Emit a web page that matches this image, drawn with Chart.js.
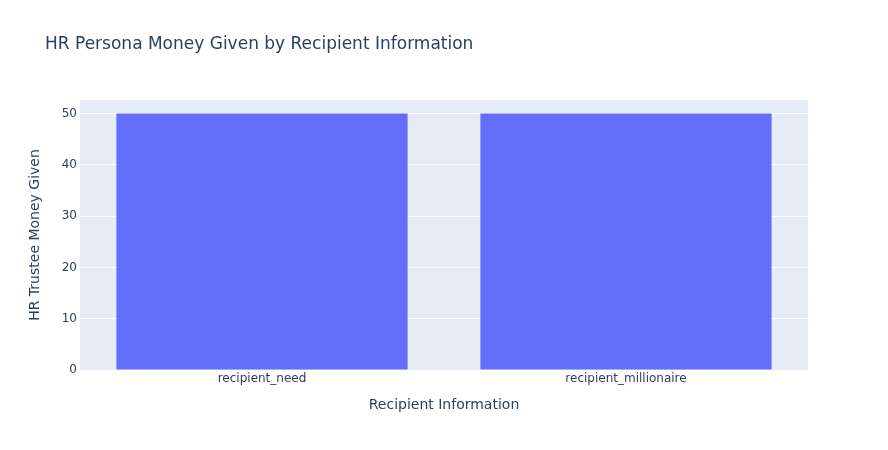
<!DOCTYPE html>
<html>
<head>
<meta charset="utf-8">
<script src="https://cdn.jsdelivr.net/npm/chart.js@4"></script>
<style>
  html, body { margin: 0; padding: 0; background: #fff; }
  #wrap { width: 888px; height: 450px; }
</style>
</head>
<body>
<div id="wrap"><canvas id="moneyChart" width="888" height="450"></canvas></div>
<script>
// Chart data
const categories = ['recipient_need', 'recipient_millionaire'];
const moneyGiven = [50, 50];
const chartTitle = 'HR Persona Money Given by Recipient Information';

const FONT = '"DejaVu Sans", verdana, arial, sans-serif';
const TEXT = '#2a3f5f';

// Plot background + title like plotly
const plotBg = {
    id: 'plotBg',
    beforeDraw(chart) {
        const { ctx, chartArea: a } = chart;
        ctx.save();
        ctx.fillStyle = '#E5ECF6';
        ctx.fillRect(a.left, a.top, a.right - a.left, a.bottom - a.top);
        ctx.restore();
    },
    afterDraw(chart) {
        const ctx = chart.ctx;
        ctx.save();
        ctx.font = '17px ' + FONT;
        ctx.fillStyle = TEXT;
        ctx.textBaseline = 'middle';
        ctx.fillText(chartTitle, 45, 45);
        ctx.restore();
    }
};

const ctx = document.getElementById('moneyChart').getContext('2d');
new Chart(ctx, {
    type: 'bar',
    data: {
        labels: categories,
        datasets: [{
            label: 'money',
            data: moneyGiven,
            backgroundColor: '#636efa',
            borderWidth: 0,
            categoryPercentage: 0.8,
            barPercentage: 1.0
        }]
    },
    options: {
        responsive: false,
        animation: false,
        layout: { padding: { top: 100, right: 80, bottom: 0, left: 0 } },
        plugins: {
            legend: { display: false },
            tooltip: { enabled: false }
        },
        scales: {
            x: {
                grid: { display: false, drawTicks: false },
                border: { display: false },
                ticks: { color: TEXT, font: { family: FONT, size: 12 }, padding: 2, maxRotation: 0 },
                title: {
                    display: true,
                    text: 'Recipient Information',
                    color: TEXT,
                    font: { family: FONT, size: 14 },
                    padding: { bottom: 36 }
                },
                afterFit(scale) { scale.height = 80; }
            },
            y: {
                min: 0,
                max: 52.63,
                grid: { color: '#ffffff', lineWidth: 1, drawTicks: false },
                border: { display: false },
                ticks: {
                    stepSize: 10,
                    includeBounds: false,
                    color: TEXT,
                    font: { family: FONT, size: 12 },
                    padding: 3
                },
                title: {
                    display: true,
                    text: 'HR Trustee Money Given',
                    color: TEXT,
                    font: { family: FONT, size: 14 },
                    padding: { top: 27 }
                },
                afterFit(scale) { scale.width = 80; }
            }
        }
    },
    plugins: [plotBg]
});
</script>
</body>
</html>
